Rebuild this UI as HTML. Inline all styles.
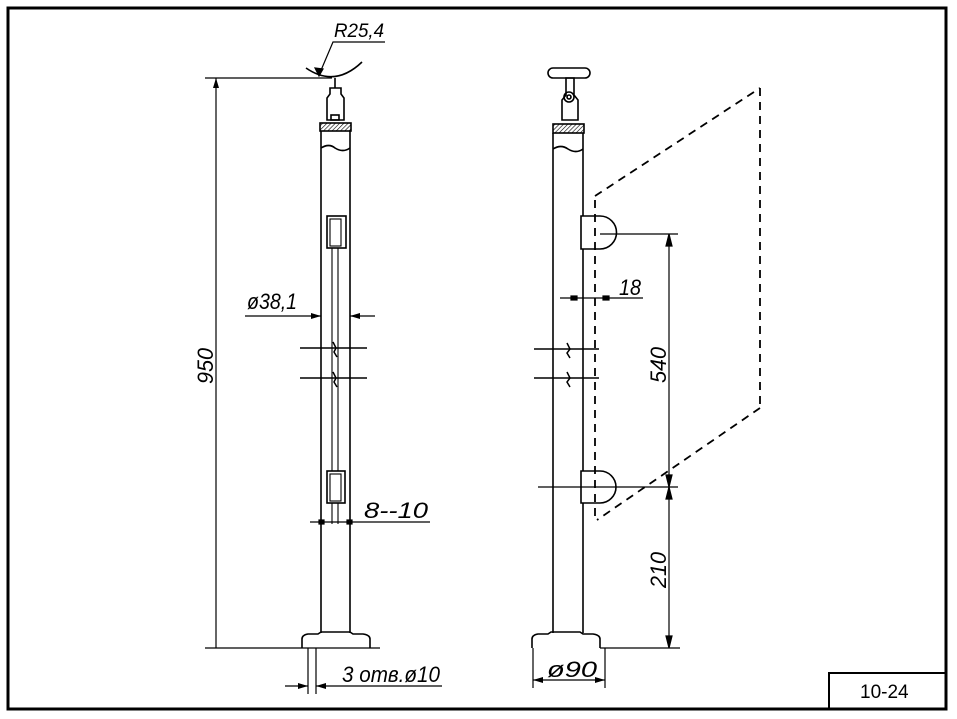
<!DOCTYPE html>
<html><head><meta charset="utf-8"><style>
html,body{margin:0;padding:0;background:#fff;width:957px;height:719px;overflow:hidden}
svg{display:block}
text{font-family:"Liberation Sans",sans-serif;font-style:italic;fill:#000}
</style></head><body>
<svg width="957" height="719" viewBox="0 0 957 719" xmlns="http://www.w3.org/2000/svg">
<defs>
<pattern id="h" width="3" height="3" patternUnits="userSpaceOnUse" patternTransform="rotate(45)"><line x1="0" y1="0" x2="0" y2="3" stroke="#000" stroke-width="1.2"/></pattern>
<marker id="a" viewBox="0 0 10 6" refX="10" refY="3" markerWidth="10" markerHeight="6" orient="auto-start-reverse" markerUnits="userSpaceOnUse"><path d="M0,0 L10,3 L0,6z" fill="#000"/></marker>
</defs>
<g fill="none" stroke="#000">
<rect x="8" y="8" width="938" height="701" stroke-width="3"/>
<polyline points="829,709 829,673 946,673" stroke-width="2"/>

<g stroke-width="1.6">
<line x1="321" y1="131" x2="321" y2="633"/>
<line x1="350" y1="131" x2="350" y2="633"/>
<path d="M321,148 q8,-5 14,0 q8,5 15,0"/>
<rect x="320" y="123" width="31" height="8" fill="url(#h)"/>
<path d="M327,120 V98 l3,-4 V88 h11 v6 l3,4 v22z"/>
<line x1="335" y1="78" x2="335" y2="88"/>
<rect x="331" y="115" width="8" height="5"/>
<rect x="327" y="216" width="19" height="32"/>
<rect x="327" y="471" width="18" height="32"/>
<path d="M302,648 v-9 q0,-4 6,-5 h10 l3,-2 h29 l3,2 h10 q7,1 7,5 v9"/>
</g>
<g stroke-width="1.1">
<line x1="332" y1="248" x2="332" y2="471"/><line x1="338" y1="248" x2="338" y2="471"/>
<line x1="332" y1="503" x2="332" y2="524"/><line x1="338" y1="503" x2="338" y2="524"/>
<rect x="330" y="219" width="11" height="27"/>
<rect x="330" y="474" width="11" height="27"/>
</g>
<g stroke-width="1.5">
<line x1="300" y1="348" x2="367" y2="348"/><line x1="300" y1="378" x2="367" y2="378"/>
<path d="M333,342 l3,6 l-2,4 l3,5"/><path d="M333,372 l3,6 l-2,4 l3,5"/>
</g>
<g stroke-width="1.2">
<line x1="205" y1="78" x2="332" y2="78"/>
<line x1="216" y1="648" x2="216" y2="78" marker-end="url(#a)"/>
<line x1="205" y1="648" x2="380" y2="648"/>
<path d="M306,68 Q335,88 362,62" stroke-width="1.6"/>
<polyline points="385,42 333,42 319,75"/>
<path d="M315,68 l4,8 l4,-7z" fill="#000"/>
<line x1="245" y1="316" x2="321" y2="316" marker-end="url(#a)"/>
<line x1="375" y1="316" x2="350" y2="316" marker-end="url(#a)"/>
<line x1="310" y1="522" x2="430" y2="522"/>
<rect x="319" y="520" width="5" height="4" fill="#000"/><rect x="347" y="520" width="5" height="4" fill="#000"/>
<line x1="308" y1="648" x2="308" y2="694"/><line x1="316" y1="648" x2="316" y2="694"/>
<line x1="285" y1="686" x2="308" y2="686" marker-end="url(#a)"/>
<line x1="442" y1="686" x2="316" y2="686" marker-end="url(#a)"/>
</g>

<g stroke-width="1.6">
<line x1="553" y1="133" x2="553" y2="633"/>
<line x1="583" y1="133" x2="583" y2="633"/>
<path d="M553,149 q8,-5 15,0 q8,5 15,0"/>
<rect x="553" y="124" width="31" height="9" fill="url(#h)"/>
<rect x="548" y="68" width="42" height="10" rx="5"/>
<path d="M562,120 v-20 l4,-5 v-17 h8 v17 l4,5 v20z"/>
<circle cx="569" cy="97" r="5"/><circle cx="569" cy="97" r="2"/>
<path d="M581,216 h19 a16,16 0 0 1 0,33 h-19z" fill="#fff"/>
<path d="M581,471 h19 a16,16 0 0 1 0,32 h-19z" fill="#fff"/>
<path d="M532,648 v-9 q0,-4 6,-5 h10 l3,-2 h29 l3,2 h10 q7,1 7,5 v9"/>
</g>
<g stroke-width="1.8" stroke-dasharray="8,6">
<line x1="595" y1="200" x2="595" y2="522"/>
<line x1="595" y1="196" x2="760" y2="88"/>
<line x1="760" y1="88" x2="760" y2="408"/>
<line x1="760" y1="408" x2="597" y2="520"/>
</g>
<g stroke-width="1.5">
<line x1="534" y1="349" x2="599" y2="349"/><line x1="534" y1="378" x2="599" y2="378"/>
<path d="M567,343 l3,6 l-3,4 l3,5"/><path d="M567,372 l3,6 l-3,4 l3,5"/>
</g>
<g stroke-width="1.2">
<line x1="600" y1="234" x2="678" y2="234"/>
<line x1="538" y1="487" x2="678" y2="487"/>
<line x1="600" y1="648" x2="680" y2="648"/>
<line x1="669" y1="234" x2="669" y2="648"/>
<path d="M666,246 l3,-12 l3,12z M666,475 l3,12 l3,-12z M666,499 l3,-12 l3,12z M666,636 l3,12 l3,-12z" fill="#000"/>
<line x1="560" y1="298" x2="643" y2="298"/>
<rect x="571" y="296" width="6" height="4" fill="#000"/><rect x="603" y="296" width="6" height="4" fill="#000"/>
<line x1="533" y1="648" x2="533" y2="688"/><line x1="605" y1="648" x2="605" y2="688"/>
<line x1="569" y1="680" x2="533" y2="680" marker-end="url(#a)"/>
<line x1="569" y1="680" x2="605" y2="680" marker-end="url(#a)"/>
</g>
</g>
<g>
<text x="334" y="37" font-size="19" textLength="50" lengthAdjust="spacingAndGlyphs">R25,4</text>
<text x="247" y="309" font-size="22" textLength="50" lengthAdjust="spacingAndGlyphs">ø38,1</text>
<text x="364" y="518" font-size="22" textLength="64" lengthAdjust="spacingAndGlyphs">8--10</text>
<text x="342" y="682" font-size="22" textLength="98" lengthAdjust="spacingAndGlyphs">3  отв.ø10</text>
<text x="547" y="677" font-size="22" textLength="50" lengthAdjust="spacingAndGlyphs">ø90</text>
<text x="619" y="295" font-size="22" textLength="22" lengthAdjust="spacingAndGlyphs">18</text>
<text font-size="22" transform="translate(213,384) rotate(-90)" textLength="36" lengthAdjust="spacingAndGlyphs">950</text>
<text font-size="22" transform="translate(666,383) rotate(-90)" textLength="36" lengthAdjust="spacingAndGlyphs">540</text>
<text font-size="22" transform="translate(666,588) rotate(-90)" textLength="36" lengthAdjust="spacingAndGlyphs">210</text>
</g>
<text x="860" y="698" font-size="19" style="font-style:normal">10-24</text>
</svg>
</body></html>
